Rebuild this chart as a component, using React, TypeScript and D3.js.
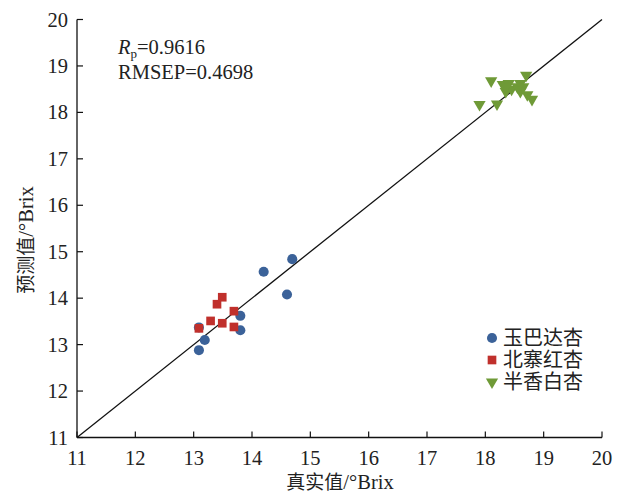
import React from "react";
import * as d3 from "d3";

const ticks = [11, 12, 13, 14, 15, 16, 17, 18, 19, 20];

const seriesNames = ["玉巴达杏", "北寨红杏", "半香白杏"];

const yubaTrue = [13.09, 13.19, 13.09, 13.8, 13.8, 14.2, 14.69, 14.6];
const yubaPred = [13.37, 13.1, 12.88, 13.62, 13.31, 14.57, 14.84, 14.08];

const beizhaiTrue = [13.09, 13.29, 13.4, 13.49, 13.49, 13.69, 13.69];
const beizhaiPred = [13.35, 13.51, 13.87, 14.02, 13.46, 13.72, 13.38];

const banxiangTrue = [17.9, 18.1, 18.2, 18.3, 18.35, 18.4, 18.45, 18.55, 18.6, 18.65, 18.7, 18.72, 18.8, 18.35, 18.6];
const banxiangPred = [18.17, 18.68, 18.18, 18.6, 18.45, 18.62, 18.5, 18.55, 18.45, 18.55, 18.8, 18.38, 18.28, 18.55, 18.62];

const colors = ["#3b6299", "#c0302c", "#6f9a37"];

export default function App() {
  const W = 622, H = 493;
  const x = d3.scaleLinear().domain([11, 20]).range([77, 602]);
  const y = d3.scaleLinear().domain([11, 20]).range([437.5, 19.5]);
  const serif = "'Liberation Serif', 'Times New Roman', serif";
  const cjk = "'Noto Sans CJK SC', sans-serif";
  const circle = d3.symbol().type(d3.symbolCircle).size(80)();
  const square = d3.symbol().type(d3.symbolSquare).size(75)();
  const tri = d3.symbol().type(d3.symbolTriangle).size(65)();
  const triDown = (cx: number, cy: number) => `translate(${cx},${cy}) rotate(180)`;
  const line = d3.line<number>().x((d) => x(d)).y((d) => y(d));

  const legendY = [338, 360, 382];
  const legendShapes = [circle, square, tri];

  return (
    <svg width={W} height={H} style={{ position: "absolute", left: 0, top: 0, background: "#fff" }}>
      {/* diagonal */}
      <path d={line([11, 20]) || ""} stroke="#111" strokeWidth={1.3} fill="none" />
      {/* axes */}
      <line x1={x(11)} x2={x(20)} y1={y(11)} y2={y(11)} stroke="#111" strokeWidth={1.3} />
      <line x1={x(11)} x2={x(11)} y1={y(11)} y2={y(20)} stroke="#111" strokeWidth={1.3} />
      {ticks.map((t) => (
        <g key={"x" + t}>
          <line x1={x(t)} x2={x(t)} y1={y(11)} y2={y(11) - 6} stroke="#111" strokeWidth={1.2} />
          <text x={x(t)} y={465} textAnchor="middle" fontFamily={serif} fontSize={20.5} fill="#222">{t}</text>
        </g>
      ))}
      {ticks.map((t) => (
        <g key={"y" + t}>
          <line x1={x(11)} x2={x(11) + 6} y1={y(t)} y2={y(t)} stroke="#111" strokeWidth={1.2} />
          <text x={68} y={y(t) + 7} textAnchor="end" fontFamily={serif} fontSize={20.5} fill="#222">{t}</text>
        </g>
      ))}
      {/* axis titles */}
      <text x={340} y={489} textAnchor="middle" fontSize={19} fill="#222">
        <tspan fontFamily={cjk}>真实值</tspan>
        <tspan fontFamily={serif} fontSize={20.5}>/°Brix</tspan>
      </text>
      <text transform={`translate(33,240) rotate(-90)`} textAnchor="middle" fontSize={19} fill="#222">
        <tspan fontFamily={cjk}>预测值</tspan>
        <tspan fontFamily={serif} fontSize={20.5}>/°Brix</tspan>
      </text>
      {/* stats */}
      <text x={118} y={54} fontFamily={serif} fontSize={20.5} fill="#222">
        <tspan fontStyle="italic">R</tspan>
        <tspan fontSize={13} dy={4}>p</tspan>
        <tspan dy={-4}>=0.9616</tspan>
      </text>
      <text x={118} y={79} fontFamily={serif} fontSize={20.5} fill="#222">RMSEP=0.4698</text>
      {/* points */}
      {yubaTrue.map((v, i) => (
        <path key={"a" + i} d={circle} transform={`translate(${x(v)},${y(yubaPred[i])})`} fill={colors[0]} />
      ))}
      {beizhaiTrue.map((v, i) => (
        <path key={"b" + i} d={square} transform={`translate(${x(v)},${y(beizhaiPred[i])})`} fill={colors[1]} />
      ))}
      {banxiangTrue.map((v, i) => (
        <path key={"c" + i} d={tri} transform={triDown(x(v), y(banxiangPred[i]))} fill={colors[2]} />
      ))}
      {/* legend */}
      {seriesNames.map((n, i) => (
        <path key={"ls" + i} d={legendShapes[i]} transform={i === 2 ? triDown(492, legendY[i]) : `translate(492,${legendY[i]})`} fill={colors[i]} />
      ))}
      <text fontFamily={cjk} fontSize={20} fill="#222">
        {seriesNames.map((n, i) => (
          <tspan key={n} x={503} y={legendY[i] + 7}>{n}</tspan>
        ))}
      </text>
    </svg>
  );
}
